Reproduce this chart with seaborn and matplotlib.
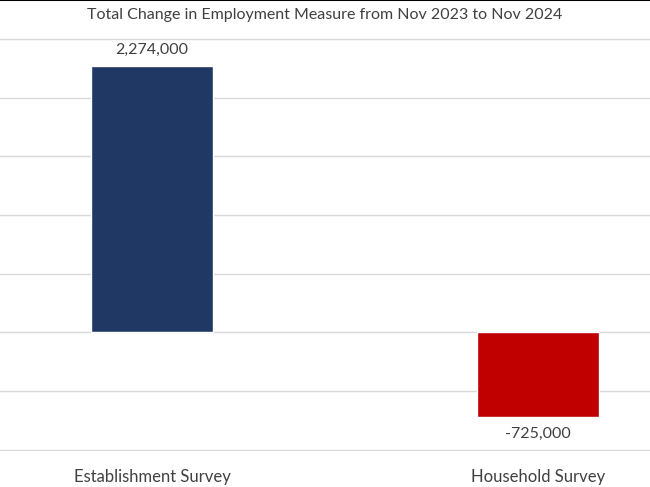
import matplotlib
matplotlib.use("Agg")
import matplotlib.pyplot as plt
import seaborn as sns
import pandas as pd

surveys = ["Establishment Survey", "Household Survey"]
changes = [2274000, -725000]
bar_colors = ["#203864", "#C00000"]
title = "Total Change in Employment Measure from Nov 2023 to Nov 2024"

df = pd.DataFrame({"survey": surveys, "change": changes})

sns.set_style("white")
plt.rcParams["font.family"] = ["Lato", "DejaVu Sans"]

fig = plt.figure(figsize=(6.5, 4.87), dpi=100)
ax = fig.add_axes([0, 36 / 487, 1, 413 / 487])

sns.barplot(data=df, x="survey", y="change", hue="survey",
            palette=bar_colors, width=0.316, saturation=1,
            legend=False, ax=ax)

ax.set_xlim(-0.394, 1.29)
ax.set_ylim(-1012000, 2510000)
ax.set_yticks(range(-1000000, 2500001, 500000))
ax.yaxis.grid(True, color="#D9D9D9", linewidth=1)
ax.set_axisbelow(True)
ax.set_yticklabels([])
ax.tick_params(axis="y", length=0)
ax.tick_params(axis="x", length=0, pad=13, labelsize=12, labelcolor="#404040")
ax.set_xlabel("")
ax.set_ylabel("")
for s in ax.spines.values():
    s.set_visible(False)

for i, v in enumerate(changes):
    off = 11.5 if v > 0 else -12
    ax.annotate(f"{v:,}", (i, v), xytext=(0, off), textcoords="offset points",
                ha="center", va="center", fontsize=11.5, color="#404040")

fig.text(0.5, 1 - 15 / 487, title, ha="center", va="center",
         fontsize=11.5, color="#404040")
fig.add_artist(plt.Line2D([0, 1], [0.999, 0.999], color="black", linewidth=1.5))

fig.savefig("out.png", dpi=100)
